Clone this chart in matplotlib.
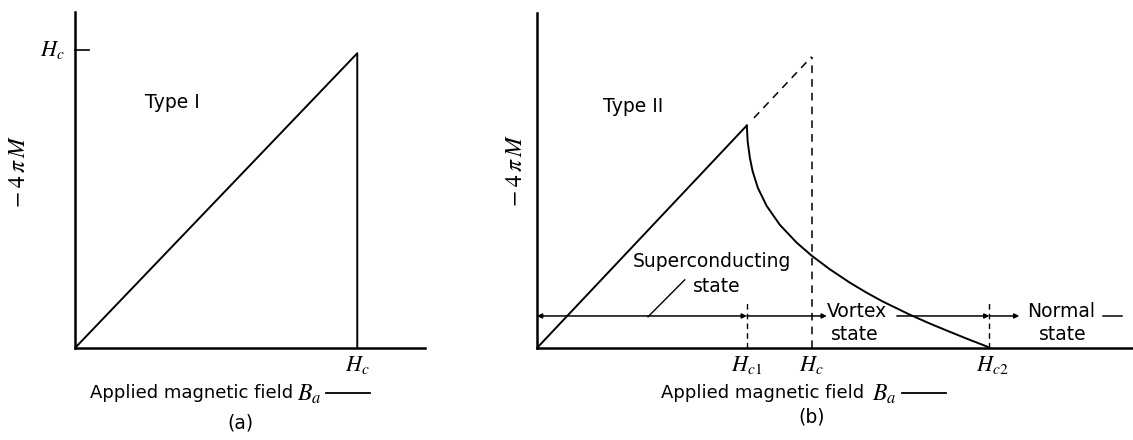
import numpy as np
import matplotlib.pyplot as plt

plt.rcParams['mathtext.fontset'] = 'stix'
plt.rcParams['font.family'] = ['DejaVu Sans']

# field values (units of Hc)
hc = 1.0
hc1 = 0.764
hc2 = 1.647

# type I: linear up to Hc then drops to zero
type1_x = [0.0, 1.0, 1.0]
type1_y = [0.0, 1.0, 0.0]

# type II: Meissner part then the vortex-state curve
meissner_x = [0.0, 0.764]
meissner_y = [0.0, 0.764]
curve_x = [0.764, 0.767, 0.775, 0.785, 0.804, 0.836, 0.884, 0.945, 1.0,
           1.065, 1.138, 1.198, 1.258, 1.356, 1.43, 1.502, 1.57, 1.636, 1.647]
curve_y = [0.763, 0.709, 0.653, 0.607, 0.550, 0.488, 0.423, 0.362, 0.317,
           0.271, 0.225, 0.191, 0.160, 0.115, 0.084, 0.056, 0.030, 0.006, 0.0]

W, H = 1133, 440
fig = plt.figure(figsize=(W / 100, H / 100), dpi=100)


def box(x0, y0, x1, y1):
    # pixel box (top-left origin) -> figure fraction rect
    return [x0 / W, 1 - y1 / H, (x1 - x0) / W, (y1 - y0) / H]


def fp(x, y):
    return (x / W, 1 - y / H)


def setup(ax):
    for s in ['top', 'right']:
        ax.spines[s].set_visible(False)
    for s in ['left', 'bottom']:
        ax.spines[s].set_linewidth(1.8)
    ax.set_xticks([])
    ax.set_yticks([])
    ax.patch.set_alpha(0)


def xlabel(x_end, b_x, arrow_x0, arrow_x1, y=393):
    # "Applied magnetic field B_a ——" built from plain text + math symbol
    fig.text(*fp(x_end, y), 'Applied magnetic field', fontsize=13,
             ha='right', va='center')
    fig.text(*fp(b_x, y + 1), r'$B_a$', fontsize=17, ha='left', va='center')
    fig.add_artist(plt.Line2D([arrow_x0 / W, arrow_x1 / W], [1 - y / H] * 2,
                              color='k', lw=1.3))


lw = 1.4
fs = 13.5
sub_kw = dict(fontsize=16, ha='center', va='center')

# ---------- (a) Type I ----------
ax1 = fig.add_axes(box(75, 12, 425, 348))
setup(ax1)
ax1.set_xlim(0, 1.24)
ax1.set_ylim(0, 1.14)
ax1.plot(type1_x, type1_y, color='k', lw=lw)
ax1.plot([0, 0.05], [hc * 1.01, hc * 1.01], color='k', lw=1.2, clip_on=False)
ax1.text(0.344, 0.834, 'Type I', fontsize=fs, ha='center', va='center')
ax1.text(-0.08, 1.01, r'$H_c$', clip_on=False, **sub_kw)
ax1.text(hc, -0.058, r'$H_c$', clip_on=False, **sub_kw)

fig.text(*fp(18, 172), r'$-\;4\,\pi\, M$', rotation=90, fontsize=17,
         ha='center', va='center')
xlabel(293, 297, 326, 370)
fig.text(*fp(240, 423), '(a)', fontsize=fs, ha='center', va='center')

# ---------- (b) Type II ----------
ax2 = fig.add_axes(box(537, 13, 1133, 348))
setup(ax2)
ax2.set_xlim(0, 2.17)
ax2.set_ylim(0, 1.15)
ax2.plot(meissner_x, meissner_y, color='k', lw=lw)
ax2.plot(curve_x, curve_y, color='k', lw=lw)
# extrapolated type I line and Hc
ax2.plot([0.79, hc], [0.79, hc], color='k', lw=1.1, ls=(0, (5, 4)))
ax2.plot([hc, hc], [0, hc], color='k', lw=1.1, ls=(0, (5, 4)))
ax2.plot([hc1, hc1], [0, 0.155], color='k', lw=1.0, ls=(0, (4, 3)))
ax2.plot([hc2, hc2], [0, 0.165], color='k', lw=1.0, ls=(0, (4, 3)))

# state bar
ys = 0.11
arr = dict(lw=1.1, color='k', shrinkA=0, shrinkB=0, mutation_scale=7)
ax2.annotate('', xy=(0.0, ys), xytext=(hc1, ys),
             arrowprops=dict(arrowstyle='<|-|>', **arr))
ax2.annotate('', xy=(hc1, ys), xytext=(1.055, ys),
             arrowprops=dict(arrowstyle='<|-', **arr))
ax2.annotate('', xy=(hc2, ys), xytext=(1.31, ys),
             arrowprops=dict(arrowstyle='-|>', **arr))
ax2.annotate('', xy=(hc2, ys), xytext=(1.756, ys),
             arrowprops=dict(arrowstyle='<|-', **arr))
ax2.plot([2.06, 2.13], [ys, ys], color='k', lw=1.1)
ax2.plot([0.404, 0.538], [0.107, 0.234], color='k', lw=1.0)

txt = dict(fontsize=fs, ha='center', va='center')
ax2.text(0.35, 0.828, 'Type II', **txt)
ax2.text(0.636, 0.296, 'Superconducting', **txt)
ax2.text(0.655, 0.21, 'state', **txt)
ax2.text(1.164, 0.124, 'Vortex', **txt)
ax2.text(1.156, 0.045, 'state', **txt)
ax2.text(1.91, 0.124, 'Normal', **txt)
ax2.text(1.913, 0.045, 'state', **txt)

ax2.text(hc1, -0.058, r'$H_{c1}$', clip_on=False, **sub_kw)
ax2.text(hc, -0.058, r'$H_c$', clip_on=False, **sub_kw)
ax2.text(hc2 + 0.01, -0.058, r'$H_{c2}$', clip_on=False, **sub_kw)

fig.text(*fp(515, 171), r'$-\;4\,\pi\, M$', rotation=90, fontsize=17,
         ha='center', va='center')
xlabel(864, 872, 902, 946)
fig.text(*fp(812, 417), '(b)', fontsize=fs, ha='center', va='center')

fig.savefig('out.png', dpi=100, facecolor='white')
